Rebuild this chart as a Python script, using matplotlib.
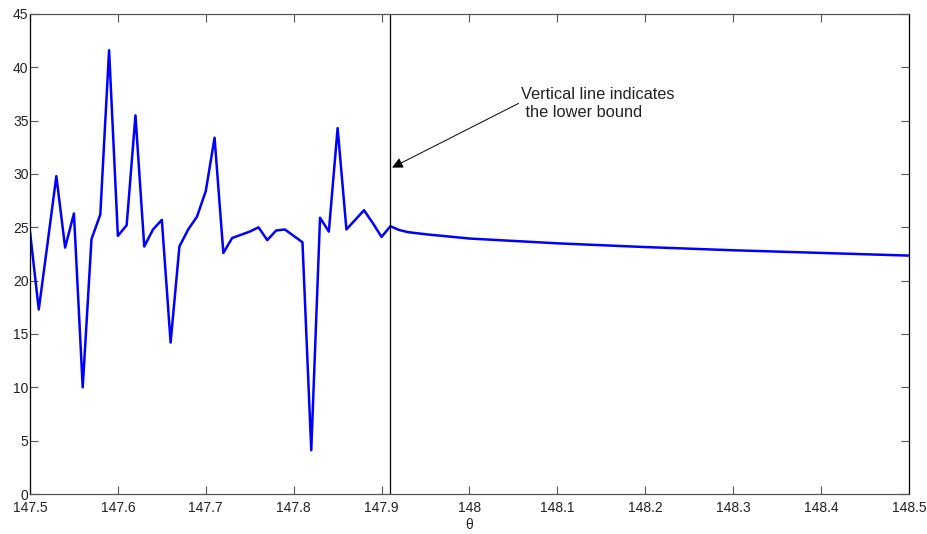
import numpy as np
import matplotlib.pyplot as plt

plt.rcParams['font.family'] = ['Liberation Sans', 'DejaVu Sans']

# noisy part, 0.01 spacing up to the lower bound
theta_left = [147.50, 147.51, 147.52, 147.53, 147.54, 147.55, 147.56, 147.57, 147.58, 147.59,
              147.60, 147.61, 147.62, 147.63, 147.64, 147.65, 147.66, 147.67, 147.68, 147.69,
              147.70, 147.71, 147.72, 147.73, 147.74, 147.75, 147.76, 147.77, 147.78, 147.79,
              147.80, 147.81, 147.82, 147.83, 147.84, 147.85, 147.86, 147.87, 147.88, 147.89,
              147.90, 147.91]
value_left = [24.6, 17.3, 23.5, 29.8, 23.1, 26.3, 10.0, 23.9, 26.2, 41.6,
              24.2, 25.2, 35.5, 23.2, 24.8, 25.7, 14.2, 23.2, 24.8, 26.0,
              28.4, 33.4, 22.6, 24.0, 24.3, 24.6, 25.0, 23.8, 24.7, 24.8,
              24.2, 23.6, 4.1, 25.9, 24.6, 34.3, 24.8, 25.7, 26.6, 25.4,
              24.1, 25.1]

# smooth part after the bound
theta_right = [147.92, 147.93, 147.95, 148.0, 148.1, 148.2, 148.3, 148.4, 148.5]
value_right = [24.75, 24.55, 24.35, 23.95, 23.5, 23.15, 22.85, 22.6, 22.35]

lower_bound = 147.91

theta = np.array(theta_left + theta_right)
values = np.array(value_left + value_right)

fig = plt.figure(figsize=(9.28, 5.34), dpi=100)
ax = fig.add_axes([0.0323, 0.0749, 0.9472, 0.8989])

ax.plot(theta, values, color='#0000ff', lw=1.8)
ax.axvline(lower_bound, color='black', lw=0.9)

ax.annotate('Vertical line indicates\n the lower bound',
            xy=(lower_bound + 0.002, 30.6), xytext=(148.059, 36.6),
            fontsize=11.8, va='center', ha='left', color='#222222',
            arrowprops=dict(arrowstyle='-|>', color='black', lw=0.7,
                            mutation_scale=16, shrinkA=0, shrinkB=0,
                            relpos=(0, 0.55)))

ax.set_xlim(147.5, 148.5)
ax.set_ylim(0, 45)
ax.set_xticks(np.arange(147.5, 148.51, 0.1))
ax.set_xticklabels(['147.5', '147.6', '147.7', '147.8', '147.9', '148',
                    '148.1', '148.2', '148.3', '148.4', '148.5'])
ax.set_yticks(range(0, 46, 5))
ax.tick_params(direction='in', length=6, width=0.8, labelsize=10,
               top=True, right=True, colors='#555555', labelcolor='#222222', pad=2)
ax.tick_params(axis='x', pad=5)
ax.tick_params(axis='y', pad=1)
for sp in ax.spines.values():
    sp.set_color('#555555')
    sp.set_linewidth(0.9)
ax.spines['left'].set_color('black')
ax.spines['right'].set_color('black')

ax.set_xlabel('θ', fontsize=10, color='#222222', labelpad=2)

fig.savefig('out.png', dpi=100)
